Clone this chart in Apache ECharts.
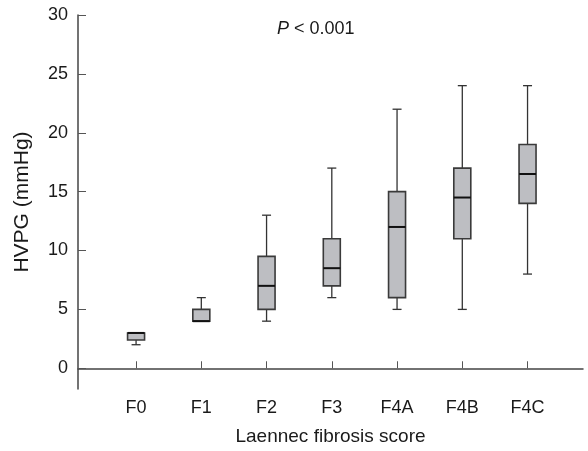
<!DOCTYPE html>
<html>
<head>
<meta charset="utf-8">
<script src="https://cdn.jsdelivr.net/npm/echarts@6/dist/echarts.min.js"></script>
<style>html,body{margin:0;padding:0;background:#fff}#c{width:588px;height:451px}</style>
</head>
<body>
<div id="c"></div>
<script>
const categories = ['F0', 'F1', 'F2', 'F3', 'F4A', 'F4B', 'F4C'];
const lowWhisker = [2, 4, 4, 6, 5, 5, 8];
const q1 = [2.4, 4, 5, 7, 6, 11, 14];
const median = [3, 4, 7, 8.5, 12, 14.5, 16.5];
const q3 = [3, 5, 9.5, 11, 15, 17, 19];
const highWhisker = [3, 6, 13, 17, 22, 24, 24];
const yTicks = [0, 5, 10, 15, 20, 25, 30];
const xPositions = [1, 2, 3, 4, 5, 6, 7];

const rows = categories.map((c, i) => [xPositions[i], lowWhisker[i], q1[i], median[i], q3[i], highWhisker[i]]);

const FONT = '"Liberation Sans", Arial, sans-serif';
const chart = echarts.init(document.getElementById('c'));
const BOX_W = 17, CAP_W = 9;

function renderItem(params, api) {
  const x = api.value(0);
  const pLow = api.coord([x, api.value(1)]);
  const pQ1 = api.coord([x, api.value(2)]);
  const pMed = api.coord([x, api.value(3)]);
  const pQ3 = api.coord([x, api.value(4)]);
  const pHigh = api.coord([x, api.value(5)]);
  const cx = pMed[0];
  const lineStyle = { stroke: '#333', lineWidth: 1.3 };
  return {
    type: 'group',
    children: [
      { type: 'line', shape: { x1: cx, y1: pQ3[1], x2: cx, y2: pHigh[1] }, style: lineStyle },
      { type: 'line', shape: { x1: cx, y1: pQ1[1], x2: cx, y2: pLow[1] }, style: lineStyle },
      { type: 'line', shape: { x1: cx - CAP_W / 2, y1: pHigh[1], x2: cx + CAP_W / 2, y2: pHigh[1] }, style: lineStyle },
      { type: 'line', shape: { x1: cx - CAP_W / 2, y1: pLow[1], x2: cx + CAP_W / 2, y2: pLow[1] }, style: lineStyle },
      { type: 'rect', shape: { x: cx - BOX_W / 2, y: pQ3[1], width: BOX_W, height: pQ1[1] - pQ3[1] },
        style: { fill: '#bdbec2', stroke: '#3a3a3a', lineWidth: 1.6 } },
      { type: 'line', shape: { x1: cx - BOX_W / 2, y1: pMed[1], x2: cx + BOX_W / 2, y2: pMed[1] },
        style: { stroke: '#111', lineWidth: 2 } }
    ]
  };
}

chart.setOption({
  animation: false,
  backgroundColor: '#fff',
  title: {
    text: '{i|P} < 0.001',
    left: 272, top: 15,
    textStyle: {
      fontFamily: FONT, fontSize: 18, fontWeight: 'normal', color: '#1a1a1a',
      rich: { i: { fontStyle: 'italic', fontFamily: FONT, fontSize: 18, color: '#1a1a1a' } }
    }
  },
  grid: { left: 78, right: 5, top: 15, bottom: 58 },
  xAxis: {
    type: 'value', min: 0.11, max: 7.85,
    name: 'Laennec fibrosis score', nameLocation: 'middle', nameGap: 38,
    nameTextStyle: { fontFamily: FONT, fontSize: 19, color: '#1a1a1a' },
    axisLine: { show: true, lineStyle: { color: '#444', width: 1.5 } },
    axisTick: { show: true, inside: true, length: 7, customValues: xPositions, lineStyle: { color: '#555' } },
    axisLabel: { customValues: xPositions, formatter: v => categories[Math.round(v) - 1], margin: 10,
      fontFamily: FONT, fontSize: 18, color: '#1a1a1a' },
    splitLine: { show: false }
  },
  yAxis: {
    type: 'value', min: -1.76, max: 30,
    name: 'HVPG (mmHg)', nameLocation: 'middle', nameGap: 45,
    nameTextStyle: { fontFamily: FONT, fontSize: 21, color: '#1a1a1a' },
    axisLine: { show: true, lineStyle: { color: '#444', width: 1.5 } },
    axisTick: { show: true, inside: true, length: 8, customValues: yTicks, lineStyle: { color: '#555' } },
    axisLabel: { customValues: yTicks, margin: 10, fontFamily: FONT, fontSize: 18, color: '#1a1a1a' },
    splitLine: { show: false }
  },
  series: [{
    type: 'custom',
    renderItem: renderItem,
    encode: { x: 0, y: [1, 2, 3, 4, 5] },
    data: rows
  }]
});
</script>
</body>
</html>
